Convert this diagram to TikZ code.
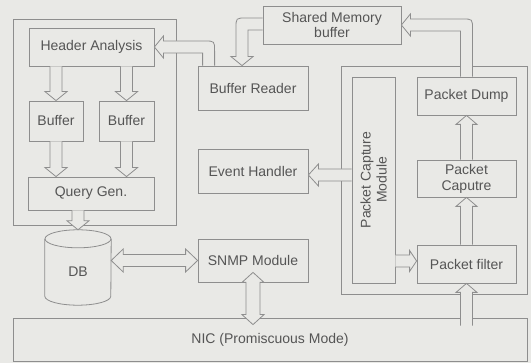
\documentclass[tikz,border=0pt]{standalone}
\usepackage{fontspec}
\setmainfont{Liberation Sans}
\usetikzlibrary{calc}
\definecolor{bg}{HTML}{E9E9E6}
\definecolor{ln}{HTML}{8E8E8E}
\definecolor{tx}{HTML}{555555}
\tikzset{
  box/.style={draw=ln, line width=0.8pt, fill=bg, text=tx, align=center, inner sep=0pt,
              font=\fontsize{14}{16}\selectfont},
  txt/.style={text=tx, align=center, inner sep=0pt, font=\fontsize{14}{16}\selectfont},
  arr/.style={draw=ln, line width=0.8pt, fill=bg, line join=miter},
}
% straight block arrow: start, tip, shaft half width, head half width, head length
\newcommand{\blockarrow}[5]{%
  \path (#1) coordinate (bas) (#2) coordinate (bat);
  \path ($(bat)!#5!(bas)$) coordinate (bah);
  \filldraw[arr] ($(bas)!#3!90:(bat)$) -- ($(bah)!#3!-90:(bas)$) -- ($(bah)!#4!-90:(bas)$)
    -- (bat) -- ($(bah)!#4!90:(bas)$) -- ($(bah)!#3!90:(bas)$) -- ($(bas)!#3!-90:(bat)$);
}
% double block arrow: tip A, tip B, shaft half width, head half width, head length
\newcommand{\dblockarrow}[5]{%
  \path (#1) coordinate (daa) (#2) coordinate (dab);
  \path ($(daa)!#5!(dab)$) coordinate (dha) ($(dab)!#5!(daa)$) coordinate (dhb);
  \filldraw[arr] (daa) -- ($(dha)!#4!90:(dab)$) -- ($(dha)!#3!90:(dab)$)
    -- ($(dhb)!#3!-90:(daa)$) -- ($(dhb)!#4!-90:(daa)$) -- (dab)
    -- ($(dhb)!#4!90:(daa)$) -- ($(dhb)!#3!90:(daa)$)
    -- ($(dha)!#3!-90:(dab)$) -- ($(dha)!#4!-90:(dab)$) -- cycle;
}
% elbow arrow going up then left: start (bottom of vertical shaft), tip
\newcommand{\elbowupleft}[2]{%
  \filldraw[arr] let \p1=(#1), \p2=(#2) in
    (\x1-6pt,\y1) -- (\x1-6pt,\y2-6pt) -- (\x2+9pt,\y2-6pt) -- (\x2+9pt,\y2-11pt)
    -- (\x2,\y2) -- (\x2+9pt,\y2+11pt) -- (\x2+9pt,\y2+6pt) -- (\x1-4pt,\y2+6pt)
    .. controls (\x1+6pt,\y2+6pt) .. (\x1+6pt,\y2-4pt) -- (\x1+6pt,\y1);
}
\begin{document}
\begin{tikzpicture}[x=1pt,y=-1pt]
  \fill[bg] (0,0) rectangle (531,363);
  \useasboundingbox (0,0) rectangle (531,363);

  % group frames
  \node[box, minimum width=163pt, minimum height=206pt] (lo) at (94.5,122) {};
  \node[box, minimum width=186pt, minimum height=228pt] (pco) at (434,180) {};

  % left group
  \node[box, minimum width=125pt, minimum height=38pt] (ha) at (91.5,47) {Header Analysis};
  \node[box, minimum width=54pt, minimum height=40pt] (bl) at (56,121) {Buffer};
  \node[box, minimum width=55pt, minimum height=40pt] (bb) at (126.5,121) {Buffer};
  \node[box, minimum width=126pt, minimum height=33pt] (qg) at (91,193.5) {Query Gen.};

  % DB cylinder
  \node[minimum width=66pt, minimum height=75pt, inner sep=0pt] (db) at (78,267.5) {};
  \filldraw[draw=ln, line width=0.8pt, fill=bg]
    ($(db.north west)+(0,9)$) -- ($(db.south west)+(0,-9)$)
    arc[start angle=180, end angle=360, x radius=33pt, y radius=9pt]
    -- ($(db.north east)+(0,9)$);
  \filldraw[draw=ln, line width=0.8pt, fill=bg] ($(db.north)+(0,9)$) ellipse[x radius=33pt, y radius=9pt];
  \node[txt] (dbt) at ($(db.center)+(0,4)$) {DB};

  % middle column
  \node[box, minimum width=138pt, minimum height=38pt] (sm) at (332,25) {Shared Memory\\buffer};
  \node[box, minimum width=110pt, minimum height=44pt] (br) at (253,88) {Buffer Reader};
  \node[box, minimum width=110pt, minimum height=44pt] (eh) at (253,171) {Event Handler};
  \node[box, minimum width=110pt, minimum height=43pt] (snmp) at (253,260.5) {SNMP Module};

  % packet capture group
  \node[box, minimum width=43pt, minimum height=206pt] (pcm) at (373.5,180) {};
  \node[txt, rotate=90] (pcmt) at (pcm.center) {Packet Capture\\Module};
  \node[box, minimum width=99pt, minimum height=38pt] (pd) at (466.5,96) {Packet Dump};
  \node[box, minimum width=99pt, minimum height=37pt] (pcap) at (466.5,178.5) {Packet\\Caputre};
  \node[box, minimum width=99pt, minimum height=38pt] (pf) at (466.5,264) {Packet filter};

  % NIC
  \node[box, minimum width=514pt, minimum height=43pt] (nic) at (270,339.5) {NIC (Promiscuous Mode)};

  % straight arrows
  \blockarrow{bl.north |- ha.south}{bl.north}{6pt}{11pt}{9pt}
  \blockarrow{bb.north |- ha.south}{bb.north}{6pt}{11pt}{9pt}
  \blockarrow{bl.south}{bl.south |- qg.north}{6pt}{11pt}{9pt}
  \blockarrow{bb.south}{bb.south |- qg.north}{6pt}{11pt}{9pt}
  \blockarrow{db.north |- qg.south}{db.north}{6pt}{11pt}{9pt}
  \dblockarrow{db.east |- snmp.west}{snmp.west}{6pt}{11.5pt}{12pt}
  \dblockarrow{$(snmp.south)+(0,-10)$}{$(snmp.south |- nic.north)+(0,7)$}{7pt}{11pt}{10pt}
  \blockarrow{$(pf.south |- nic.north)+(0,8)$}{pf.south}{6pt}{10.5pt}{9pt}
  \blockarrow{pf.north}{pcap.south}{6pt}{10.5pt}{9pt}
  \blockarrow{pcap.north}{pd.south}{6pt}{10.5pt}{9pt}
  \blockarrow{$(pcm.west |- eh.east)+(0,4)$}{$(eh.east)+(0,4)$}{6pt}{11pt}{10pt}
  \blockarrow{$(pcm.east |- pf.west)+(0,-3)$}{$(pf.west)+(0,-3)$}{6pt}{10.5pt}{7pt}

  % elbow arrows
  \elbowupleft{$(br.north west)+(11,0)$}{ha.east}
  \elbowupleft{pd.north}{sm.east}
  \filldraw[arr] let \p1=(sm.west), \p2=($(br.north)+(-11,0)$) in
    (\x1,\y1+7pt) -- (\x2+4pt,\y1+7pt) .. controls (\x2-6pt,\y1+7pt) .. (\x2-6pt,\y1-3pt)
    -- (\x2-6pt,\y2+9pt) -- (\x2-11pt,\y2+9pt) -- (\x2,\y2) -- (\x2+11pt,\y2+9pt)
    -- (\x2+6pt,\y2+9pt) -- (\x2+6pt,\y1-5pt) -- (\x1,\y1-5pt);
\end{tikzpicture}
\end{document}
